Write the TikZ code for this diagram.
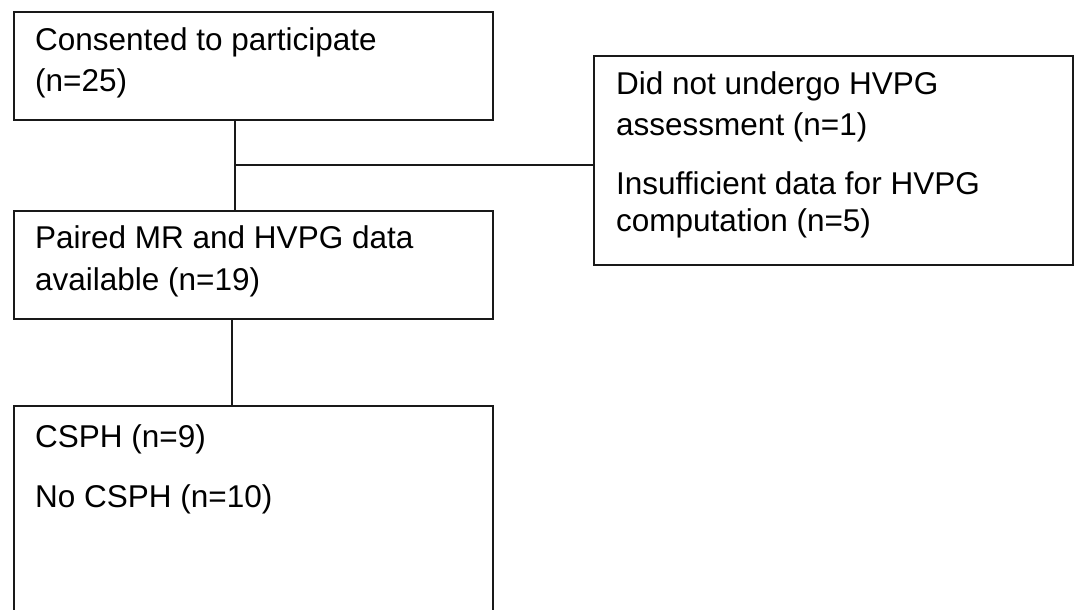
\documentclass[tikz,border=0pt]{standalone}
\usepackage{fontspec}
\setmainfont{Liberation Sans}
\usetikzlibrary{calc}
\begin{document}
\begin{tikzpicture}[x=1pt,y=-1pt,
  box/.style={draw=black!90, line width=1.8pt, inner sep=0pt, anchor=north west, minimum width=479pt},
  txt/.style={anchor=base west, inner sep=0pt, font=\fontsize{31.5}{40}\selectfont},
  link/.style={draw=black!90, line width=1.6pt}]
\useasboundingbox (0,0) rectangle (1074,610);
\clip (0,0) rectangle (1074,610);
% boxes
\node[box, minimum height=108pt] (b1) at (13,11) {};
\node[box, minimum height=209pt] (b2) at (593,55) {};
\node[box, minimum height=108pt] (b3) at (13,210) {};
\node[box, minimum height=230pt] (b4) at (13,405) {};
% texts
\node[txt] (t1) at ($(b1.north west)+(22,40)$)
  {\vtop{\baselineskip=41pt\hbox{Consented to participate}\hbox{(n=25)}}};
\node[txt] (t2) at ($(b2.north west)+(23,40)$)
  {\vtop{\baselineskip=40pt\hbox{Did not undergo HVPG}\hbox{assessment (n=1)}\vskip 23pt\baselineskip=37pt\hbox{Insufficient data for HVPG}\hbox{computation (n=5)}}};
\node[txt] (t3) at ($(b3.north west)+(22,38)$)
  {\vtop{\baselineskip=42pt\hbox{Paired MR and HVPG data}\hbox{available (n=19)}}};
\node[txt] (t4) at ($(b4.north west)+(22,42)$)
  {\vtop{\baselineskip=40pt\hbox{CSPH (n=9)}\vskip 20pt\hbox{No CSPH (n=10)}}};
% connectors
\coordinate (j) at (235,165);
\coordinate (k) at (232,318);
\draw[link] (j |- b1.south) -- (j |- b3.north);
\draw[link] (j) -- (j -| b2.west);
\draw[link] (k |- b3.south) -- (k |- b4.north);
\end{tikzpicture}
\end{document}
